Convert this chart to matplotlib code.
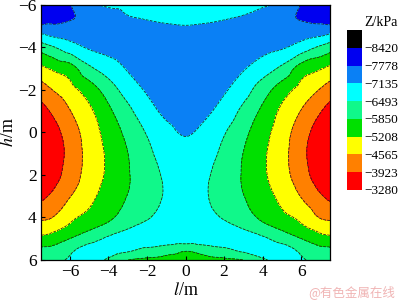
import numpy as np
import matplotlib
matplotlib.use("Agg")
import matplotlib.pyplot as plt
import matplotlib.tri as mtri

plt.rcParams['font.family'] = 'Liberation Serif'
plt.rcParams['mathtext.fontset'] = 'stix'

# grid (right half, l >= 0); left half is the mirror image
l_half = np.array([0, 1, 2, 3, 4, 5, 6, 7, 7.5])
h_rows = np.array([-6, -5.5, -5, -4.5, -4, -3, -2, -1, 0, 1, 2, 3, 4, 4.5, 5, 5.5, 6])

# Z / kPa at (h_rows[i], l_half[j])
z_half = np.array([
    [-6950, -6960, -6990, -7040, -7080, -7250, -7800, -8050, -8150],
    [-7010, -7030, -7080, -7140, -7300, -7500, -7870, -7930, -7950],
    [-7150, -7180, -7230, -7300, -7400, -7500, -7620, -7700, -7720],
    [-7350, -7380, -7420, -7450, -7450, -7400, -7300, -7100, -6900],
    [-7480, -7500, -7480, -7420, -7330, -7200, -6850, -6380, -6150],
    [-7520, -7480, -7380, -7180, -6800, -6350, -5550, -5250, -5050],
    [-7480, -7380, -7200, -6780, -6150, -5520, -4980, -4520, -4270],
    [-7350, -7250, -6900, -6330, -5720, -5080, -4540, -3960, -3680],
    [-7180, -6980, -6540, -6020, -5450, -4880, -4220, -3620, -3380],
    [-6950, -6780, -6330, -5840, -5320, -4800, -4100, -3550, -3310],
    [-6850, -6600, -6200, -5800, -5320, -4840, -4200, -3620, -3430],
    [-6800, -6560, -6170, -5870, -5480, -5040, -4540, -3990, -3800],
    [-6850, -6700, -6440, -6120, -5730, -5390, -5080, -4530, -4450],
    [-6900, -6850, -6700, -6460, -6080, -5750, -5350, -5000, -4870],
    [-6950, -6950, -6950, -6850, -6600, -6250, -5860, -5450, -5380],
    [-5950, -6150, -6380, -6650, -6800, -6720, -6380, -6000, -5950],
    [-5600, -5640, -5720, -5860, -6400, -6700, -6550, -6300, -6150],
])

# colour bar levels
cbar_labels = [-8420, -7778, -7135, -6493, -5850, -5208, -4565, -3923, -3280]
lowest = -9062
band_colors = ['#000000', '#0000f0', '#0a80f5', '#00ffff', '#10f88a',
               '#00e000', '#ffff00', '#ff8000', '#ff0000']

l_full = np.concatenate([-l_half[:0:-1], l_half])
z_full = np.hstack([z_half[:, :0:-1], z_half])
L, H = np.meshgrid(l_full, h_rows)
levels = [lowest] + cbar_labels

# smooth the contours with matplotlib's triangulation refiner
tri = mtri.Triangulation(L.ravel(), H.ravel())
interp = mtri.CubicTriInterpolator(tri, z_full.ravel(), kind='geom')
tri_fine, z_fine = mtri.UniformTriRefiner(tri).refine_field(
    z_full.ravel(), triinterpolator=interp, subdiv=3)
z_fine = np.clip(z_fine, lowest + 1, cbar_labels[-1] - 1)

fig = plt.figure(figsize=(4, 3.03), dpi=100)
ax = fig.add_axes([0.1025, 0.142, 0.7225, 0.8415])

cf = ax.tricontourf(tri_fine, z_fine, levels=levels, colors=band_colors)
ax.tricontour(tri_fine, z_fine, levels=levels[1:-1], colors='#202020', linewidths=0.55)

ax.set_xlim(-7.5, 7.5)
ax.set_ylim(6, -6)
ax.set_xticks([-6, -4, -2, 0, 2, 4, 6])
ax.set_yticks([-6, -4, -2, 0, 2, 4, 6])
ax.tick_params(direction='in', length=3, width=0.8, labelsize=12.5, pad=3)
for s in ax.spines.values():
    s.set_linewidth(0.9)
ax.set_xlabel(r'$l$/m', fontsize=13, labelpad=1)
ax.set_ylabel(r'$h$/m', fontsize=13, labelpad=1)

cax = fig.add_axes([0.8675, 0.373, 0.0375, 0.528])
cb = fig.colorbar(cf, cax=cax)
cax.invert_yaxis()
cb.set_ticks(cbar_labels)
cb.set_ticklabels([f"\u2212{abs(v)}" for v in cbar_labels])
cb.outline.set_visible(False)
cax.tick_params(length=0, labelsize=9.5, pad=2)
fig.text(0.952, 0.927, 'Z/kPa', ha='center', va='center', fontsize=10)

fig.text(0.988, 0.012, '@有色金属在线', ha='right', va='bottom', color='#f0b4b4',
         fontsize=9, family=['Noto Sans CJK SC', 'DejaVu Sans'])

fig.savefig('out.png', dpi=100)
